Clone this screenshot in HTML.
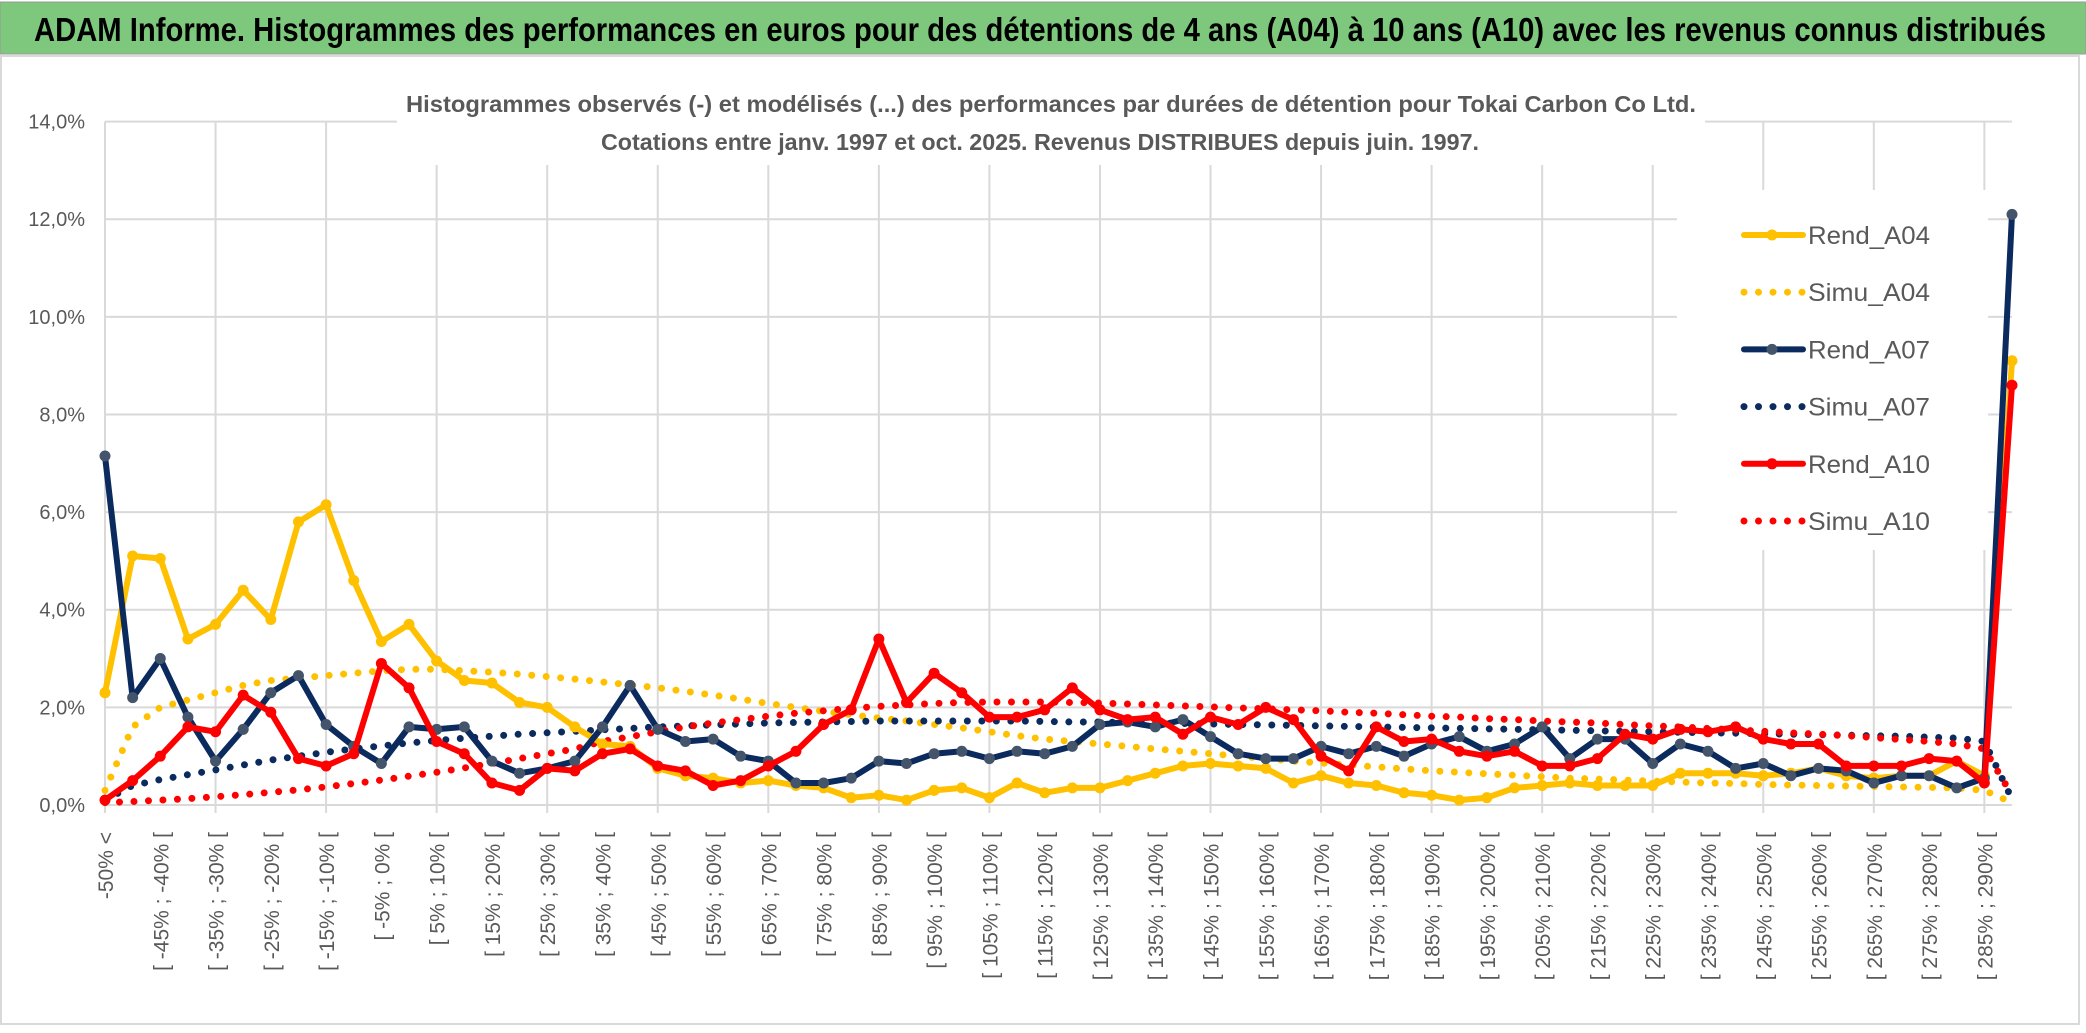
<!DOCTYPE html>
<html><head><meta charset="utf-8"><style>
html,body{margin:0;padding:0;background:#fff;}
svg{display:block;font-family:"Liberation Sans",sans-serif;}
</style></head><body>
<svg id="chart" width="2086" height="1033" viewBox="0 0 2086 1033">
<rect x="0" y="0" width="2086" height="1033" fill="#fff"/>
<rect x="0" y="2" width="2086" height="52" fill="#7dc87d" stroke="#999" stroke-width="1"/>
<text x="34" y="41" font-size="33" font-weight="bold" fill="#000" textLength="2012" lengthAdjust="spacingAndGlyphs">ADAM Informe. Histogrammes des performances en euros pour des détentions de 4 ans (A04) à 10 ans (A10) avec les revenus connus distribués</text>
<rect x="1" y="56" width="2078" height="968" fill="none" stroke="#d9d9d9" stroke-width="2"/>
<g id="grid"></g>
<rect x="397" y="80" width="1308" height="85" fill="#fff"/>
<text x="1051" y="112" font-size="23" font-weight="bold" fill="#595959" text-anchor="middle" textLength="1290" lengthAdjust="spacingAndGlyphs">Histogrammes observés (-) et modélisés (...) des performances par durées de détention pour Tokai Carbon Co Ltd.</text>
<text x="1040" y="150" font-size="23" font-weight="bold" fill="#595959" text-anchor="middle" textLength="878" lengthAdjust="spacingAndGlyphs">Cotations entre janv. 1997 et oct. 2025. Revenus DISTRIBUES depuis juin. 1997.</text>
<rect x="1677" y="190" width="311" height="360" fill="#fff"/>
<g id="yaxis"></g>
<g id="xaxis"></g>
<g id="series"></g>
<g id="legend"></g>
</svg>
<script>
const rendA04 = [2.3,5.1,5.05,3.4,3.7,4.4,3.8,5.8,6.15,4.6,3.35,3.7,2.95,2.55,2.5,2.1,2.0,1.6,1.25,1.2,0.75,0.6,0.55,0.45,0.5,0.4,0.35,0.15,0.2,0.1,0.3,0.35,0.15,0.45,0.25,0.35,0.35,0.5,0.65,0.8,0.85,0.8,0.75,0.45,0.6,0.45,0.4,0.25,0.2,0.1,0.15,0.35,0.4,0.45,0.4,0.4,0.4,0.65,0.65,0.65,0.6,0.65,0.75,0.6,0.55,0.6,0.6,0.9,0.6,9.1];
const simuA04 = [0.3,1.6,2.0,2.15,2.3,2.45,2.55,2.6,2.65,2.7,2.75,2.78,2.78,2.75,2.72,2.68,2.63,2.58,2.52,2.46,2.4,2.33,2.25,2.17,2.08,2.0,1.92,1.85,1.78,1.72,1.65,1.58,1.5,1.42,1.35,1.3,1.25,1.2,1.15,1.1,1.05,1.0,0.95,0.9,0.86,0.82,0.78,0.74,0.7,0.67,0.64,0.61,0.58,0.55,0.53,0.51,0.49,0.47,0.45,0.44,0.42,0.41,0.4,0.39,0.38,0.37,0.36,0.35,0.3,0.05];
const rendA07 = [7.15,2.2,3.0,1.8,0.9,1.55,2.3,2.65,1.65,1.2,0.85,1.6,1.55,1.6,0.9,0.65,0.75,0.9,1.6,2.45,1.55,1.3,1.35,1.0,0.9,0.45,0.45,0.55,0.9,0.85,1.05,1.1,0.95,1.1,1.05,1.2,1.65,1.7,1.6,1.75,1.4,1.05,0.95,0.95,1.2,1.05,1.2,1.0,1.25,1.4,1.1,1.25,1.6,0.95,1.35,1.35,0.85,1.25,1.1,0.75,0.85,0.6,0.75,0.7,0.45,0.6,0.6,0.35,0.55,12.1];
const simuA07 = [0.1,0.4,0.52,0.62,0.72,0.82,0.92,1.0,1.08,1.15,1.21,1.27,1.32,1.37,1.41,1.45,1.48,1.51,1.54,1.57,1.6,1.62,1.64,1.66,1.68,1.69,1.7,1.71,1.72,1.72,1.72,1.72,1.72,1.72,1.71,1.7,1.7,1.69,1.68,1.67,1.66,1.65,1.64,1.63,1.62,1.61,1.6,1.59,1.58,1.57,1.56,1.55,1.54,1.53,1.52,1.51,1.5,1.49,1.48,1.47,1.46,1.45,1.44,1.43,1.42,1.41,1.39,1.37,1.3,0.12];
const rendA10 = [0.1,0.5,1.0,1.6,1.5,2.25,1.9,0.95,0.8,1.05,2.9,2.4,1.3,1.05,0.45,0.3,0.75,0.7,1.05,1.15,0.8,0.7,0.4,0.5,0.8,1.1,1.65,1.95,3.4,2.1,2.7,2.3,1.8,1.8,1.95,2.4,1.95,1.75,1.8,1.45,1.8,1.65,2.0,1.75,1.0,0.7,1.6,1.3,1.35,1.1,1.0,1.1,0.8,0.8,0.95,1.45,1.35,1.55,1.5,1.6,1.35,1.25,1.25,0.8,0.8,0.8,0.95,0.9,0.45,8.6];
const simuA10 = [0.05,0.07,0.1,0.13,0.17,0.21,0.26,0.31,0.37,0.44,0.51,0.59,0.67,0.76,0.85,0.95,1.05,1.15,1.3,1.4,1.5,1.6,1.68,1.75,1.82,1.88,1.93,1.98,2.02,2.05,2.08,2.1,2.11,2.11,2.11,2.1,2.09,2.07,2.05,2.03,2.01,1.99,1.97,1.95,1.93,1.9,1.88,1.85,1.82,1.8,1.77,1.75,1.72,1.7,1.68,1.65,1.62,1.6,1.57,1.54,1.51,1.48,1.45,1.42,1.38,1.34,1.3,1.25,1.15,0.2];
const yTicks = [0,2,4,6,8,10,12,14];
const yTickLabels = ["0,0%","2,0%","4,0%","6,0%","8,0%","10,0%","12,0%","14,0%"];
const categories = ["-50% <"];
for (let k = 1; k < 70; k++) { const a = -55 + 5 * k; categories.push("[ " + a + "% ; " + (a + 5) + "% ["); }

const NS = "http://www.w3.org/2000/svg";
const X0 = 105, X1 = 2012, Y0 = 805, YTOP = 121.6, YMAX = 14;
const xs = i => X0 + (X1 - X0) * i / (categories.length - 1);
const ys = v => Y0 - (Y0 - YTOP) * v / YMAX;
function mk(tag, attrs, parent) { const e = document.createElementNS(NS, tag); for (const k in attrs) e.setAttribute(k, attrs[k]); parent.appendChild(e); return e; }

const grid = document.getElementById("grid");
yTicks.forEach(t => {
  const l = mk("line", {x1: X0, x2: X1, y1: ys(t), y2: ys(t), stroke: "#d9d9d9", "stroke-width": 2}, grid);
  
  
});
for (let i = 0; i < categories.length; i += 4) {
  const l = mk("line", {x1: xs(i), x2: xs(i), y1: YTOP, y2: Y0 + 8, stroke: "#d9d9d9", "stroke-width": 2}, grid);
  
  
}
const yax = document.getElementById("yaxis");
yTicks.forEach((t, i) => {
  const tx = mk("text", {x: 85, y: ys(t) + 7, "font-size": 20, fill: "#595959", "text-anchor": "end"}, yax);
  tx.textContent = yTickLabels[i];
  
  
});
const xax = document.getElementById("xaxis");
categories.forEach((c, i) => {
  if (i % 2 !== 0 || i > 68) return;
  const x = xs(i) + 8, y = 832;
  const tx = mk("text", {x: x, y: y, "font-size": 21, fill: "#595959", "text-anchor": "end", transform: "rotate(-90 " + x + " " + y + ")"}, xax);
  tx.textContent = c;
  
  
});

const ser = document.getElementById("series");
function pts(arr) { return arr.map((v, i) => xs(i).toFixed(1) + "," + ys(v).toFixed(1)).join(" "); }
function dotted(arr, color, name) {
  const p = mk("polyline", {points: pts(arr), fill: "none", stroke: color, "stroke-width": 7, "stroke-linecap": "round", "stroke-dasharray": "0 14.5"}, ser);
  
  
}
function solid(arr, color, mcolor, name) {
  const g = mk("g", {}, ser);
  
  
  const p = mk("polyline", {points: pts(arr), fill: "none", stroke: color, "stroke-width": 6, "stroke-linejoin": "round"}, g);
  
  
  arr.forEach((v, i) => {
    const c = mk("circle", {cx: xs(i), cy: ys(v), r: 5.5, fill: mcolor}, g);
    
    
  });
}
dotted(simuA04, "#ffc000", "simu-a04-line");
dotted(simuA07, "#0b2a5e", "simu-a07-line");
dotted(simuA10, "#ff0000", "simu-a10-line");
solid(rendA04, "#ffc000", "#ffc000", "rend-a04");
solid(rendA07, "#0b2a5e", "#44546a", "rend-a07");
solid(rendA10, "#ff0000", "#ff0000", "rend-a10");

const leg = document.getElementById("legend");
const legendItems = [
  ["Rend_A04", "#ffc000", "#ffc000", false],
  ["Simu_A04", "#ffc000", null, true],
  ["Rend_A07", "#0b2a5e", "#44546a", false],
  ["Simu_A07", "#0b2a5e", null, true],
  ["Rend_A10", "#ff0000", "#ff0000", false],
  ["Simu_A10", "#ff0000", null, true]
];
legendItems.forEach((it, i) => {
  const y = 235 + i * 57.2;
  const g = mk("g", {}, leg);
  
  
  if (it[3]) {
    mk("line", {x1: 1744, x2: 1805, y1: y, y2: y, stroke: it[1], "stroke-width": 7, "stroke-linecap": "round", "stroke-dasharray": "0 14.5"}, g);
  } else {
    mk("line", {x1: 1744, x2: 1803, y1: y, y2: y, stroke: it[1], "stroke-width": 6, "stroke-linecap": "round"}, g);
    mk("circle", {cx: 1772, cy: y, r: 5.5, fill: it[2]}, g);
  }
  const t = mk("text", {x: 1808, y: y + 9, "font-size": 25, fill: "#595959", textLength: 122, lengthAdjust: "spacingAndGlyphs"}, g);
  t.textContent = it[0];
});
</script>
</body></html>
